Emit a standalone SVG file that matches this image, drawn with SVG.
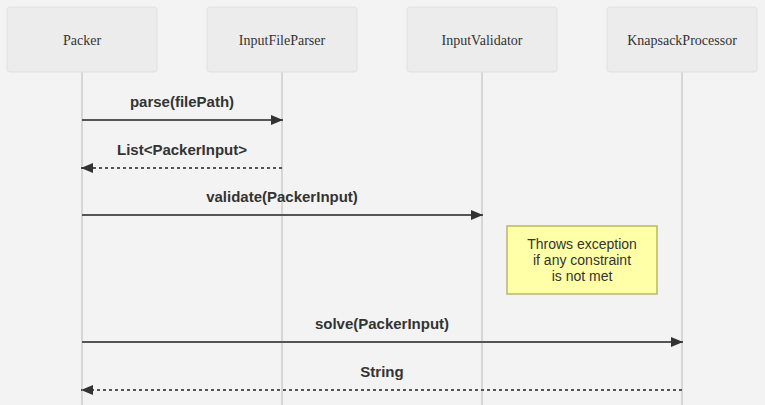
<svg xmlns="http://www.w3.org/2000/svg" width="765" height="405" viewBox="0 0 765 405">
<defs>
<style>
.actor rect{fill:#ececec;stroke:#e0e0e0;stroke-width:1}
.actor text{font-family:"Liberation Serif",serif;font-size:14px;fill:#333;text-anchor:middle;dominant-baseline:central}
.life{stroke:#ccc;stroke-width:1.5}
.msg{stroke:#555;stroke-width:2;fill:none}
.dash{stroke-dasharray:3 3}
.mt{font-family:"Liberation Sans",Arial,sans-serif;font-weight:bold;font-size:15px;fill:#333;text-anchor:middle}
.note rect{fill:#ffffa8;stroke:#b8b86a;stroke-width:1.5}
.note text{font-family:"Liberation Sans",Arial,sans-serif;font-size:14px;fill:#333;text-anchor:middle}
</style>
<marker id="ah" viewBox="0 0 12 10" refX="12" refY="5" markerWidth="12" markerHeight="10" markerUnits="userSpaceOnUse" orient="auto">
<path d="M0,0 L12,5 L0,10 z" fill="#333"/>
</marker>
</defs>
<rect x="0" y="0" width="765" height="405" fill="#f3f3f3"/>
<g id="lifelines">
<line class="life" x1="82" y1="72" x2="82" y2="405"/>
<line class="life" x1="282" y1="72" x2="282" y2="405"/>
<line class="life" x1="482" y1="72" x2="482" y2="405"/>
<line class="life" x1="682" y1="72" x2="682" y2="405"/>
</g>
<g id="Packer" class="actor"><rect x="7" y="7" width="150" height="65" rx="3"/><text x="82" y="40">Packer</text></g>
<g id="InputFileParser" class="actor"><rect x="207" y="7" width="150" height="65" rx="3"/><text x="282" y="40">InputFileParser</text></g>
<g id="InputValidator" class="actor"><rect x="407" y="7" width="150" height="65" rx="3"/><text x="482" y="40">InputValidator</text></g>
<g id="KnapsackProcessor" class="actor"><rect x="607" y="7" width="150" height="65" rx="3"/><text x="682" y="40">KnapsackProcessor</text></g>
<g id="connectors">
<line class="msg" x1="82" y1="120" x2="283" y2="120" marker-end="url(#ah)"/>
<text class="mt" x="182" y="107">parse(filePath)</text>
<line class="msg dash" x1="282" y1="168" x2="81" y2="168" marker-end="url(#ah)"/>
<text class="mt" x="182" y="155">List&lt;PackerInput&gt;</text>
<line class="msg" x1="82" y1="215" x2="483" y2="215" marker-end="url(#ah)"/>
<text class="mt" x="282" y="202">validate(PackerInput)</text>
<line class="msg" x1="82" y1="342" x2="683" y2="342" marker-end="url(#ah)"/>
<text class="mt" x="382" y="329">solve(PackerInput)</text>
<line class="msg dash" x1="682" y1="390" x2="81" y2="390" marker-end="url(#ah)"/>
<text class="mt" x="382" y="377">String</text>
</g>
<g id="note" class="note">
<rect x="507" y="226" width="150" height="68"/>
<text x="582" y="249">Throws exception</text>
<text x="582" y="265">if any constraint</text>
<text x="582" y="281">is not met</text>
</g>
</svg>
